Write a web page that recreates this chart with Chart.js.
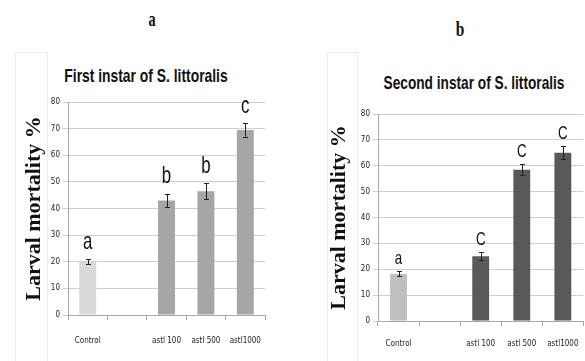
<!DOCTYPE html>
<html>
<head>
<meta charset="utf-8">
<script src="https://cdn.jsdelivr.net/npm/chart.js@4.4.1/dist/chart.umd.min.js"></script>
<style>
  body { margin:0; width:585px; height:361px; overflow:hidden; background:#fff; position:relative; }
  canvas { position:absolute; top:0; }
  .txt { position:absolute; white-space:nowrap; color:#111; transform-origin:center; }
  .box { position:absolute; border:1px solid #ebebeb; border-bottom:none; }
</style>
</head>
<body>
<div class="box" style="left:15px;top:52px;width:31px;height:320px"></div>
<div class="box" style="left:327px;top:52px;width:29px;height:320px"></div>

<div class="txt" style="left:152px;top:19px;font:bold 22px 'Liberation Serif';transform:translate(-50%,-50%) scaleX(.65)">a</div>
<div class="txt" style="left:460px;top:29px;font:bold 22px 'Liberation Serif';transform:translate(-50%,-50%) scaleX(.7)">b</div>
<div class="txt" style="left:146px;top:76px;font:bold 19px 'Liberation Sans';transform:translate(-50%,-50%) scaleX(.73)">First instar of S. littoralis</div>
<div class="txt" style="left:474px;top:83px;font:bold 19px 'Liberation Sans';transform:translate(-50%,-50%) scaleX(.72)">Second instar of S. littoralis</div>

<canvas id="ca" width="292" height="361" style="left:0"></canvas>
<canvas id="cb" width="300" height="361" style="left:292px"></canvas>

<script>
// data
const doses      = ['Control', '', 'astl 100', 'astl 500', 'astl1000'];
const firstMort  = [20, null, 43, 46.5, 69.5];
const firstErr   = [1, null, 2.5, 3, 2.5];
const firstSig   = ['a', '', 'b', 'b', 'c'];
const secondMort = [18.2, null, 25, 58.5, 65];
const secondErr  = [1, null, 1.5, 2, 2.5];
const secondSig  = ['a', '', 'C', 'C', 'C'];
const yTicks     = [0, 10, 20, 30, 40, 50, 60, 70, 80];

const narrow = "'Liberation Sans Narrow','DejaVu Sans Condensed','Liberation Sans'";

// error bars + significance letters over each bar
const errBars = {
  id: 'errBars',
  afterDatasetsDraw(chart, args, o) {
    const ctx = chart.ctx, ys = chart.scales.y;
    const vals = chart.data.datasets[0].data;
    ctx.save();
    chart.getDatasetMeta(0).data.forEach((bar, i) => {
      const v = vals[i];
      if (v == null) return;
      const top = ys.getPixelForValue(v + o.errors[i]);
      const bot = ys.getPixelForValue(v - o.errors[i]);
      const x = Math.round(bar.x) + 0.5;
      ctx.strokeStyle = '#222'; ctx.lineWidth = 1;
      ctx.beginPath();
      ctx.moveTo(x, top); ctx.lineTo(x, bot);
      ctx.moveTo(x - 2.5, Math.round(top) + .5); ctx.lineTo(x + 2.5, Math.round(top) + .5);
      ctx.moveTo(x - 2.5, Math.round(bot) + .5); ctx.lineTo(x + 2.5, Math.round(bot) + .5);
      ctx.stroke();
      // letter
      ctx.save();
      ctx.translate(bar.x, top - o.gap);
      ctx.scale(o.squeeze, 1);
      ctx.fillStyle = '#111';
      ctx.font = o.font;
      ctx.textAlign = 'center';
      ctx.textBaseline = 'middle';
      ctx.fillText(o.letters[i], 0, 0);
      ctx.restore();
    });
    ctx.restore();
  }
};

function makeChart(id, values, colors, errs, sig, pad, yW, titlePad, xPad, letterFont, gap, barPct) {
  return new Chart(document.getElementById(id), {
    type: 'bar',
    data: {
      labels: doses,
      datasets: [{ data: values, backgroundColor: colors, borderWidth: 0,
                   categoryPercentage: 1, barPercentage: barPct }]
    },
    plugins: [errBars],
    options: {
      responsive: false,
      animation: false,
      layout: { padding: pad },
      plugins: {
        legend: { display: false },
        tooltip: { enabled: false },
        errBars: { errors: errs, letters: sig, font: letterFont, gap: gap, squeeze: 0.7 }
      },
      scales: {
        x: {
          grid: { offset: true, drawOnChartArea: false, tickLength: 5, color: '#a8a8a8' },
          border: { color: '#a8a8a8' },
          ticks: { font: { family: narrow, size: 8 }, color: '#222', padding: xPad, maxRotation: 0 },
          afterFit(s) { s.height = 40; }
        },
        y: {
          min: 0, max: 80,
          afterBuildTicks(s) { s.ticks = yTicks.map(v => ({ value: v })); },
          grid: { color: '#cfcfcf', tickLength: 5 },
          border: { color: '#a8a8a8' },
          ticks: { font: { family: narrow, size: 8 }, color: '#222', padding: 3 },
          title: { display: true, text: 'Larval mortality %', color: '#111',
                   font: { family: 'Liberation Serif', weight: 'bold', size: 22 },
                   padding: { top: titlePad, bottom: 0 } },
          afterFit(s) { s.width = yW; }
        }
      }
    }
  });
}

makeChart('ca', firstMort, ['#d9d9d9', '#a6a6a6', '#a6a6a6', '#a6a6a6', '#a6a6a6'],
  firstErr, firstSig, { left: 10, right: 27, top: 102, bottom: 6 }, 58, 11, 16,
  "24px 'Liberation Sans'", 17, 0.43);

makeChart('cb', secondMort, ['#bfbfbf', '#595959', '#595959', '#595959', '#595959'],
  secondErr, secondSig, { left: 24, right: 5, top: 114, bottom: 0 }, 62, 10, 13,
  "19px 'Liberation Sans'", 12.5, 0.41);
</script>
</body>
</html>
